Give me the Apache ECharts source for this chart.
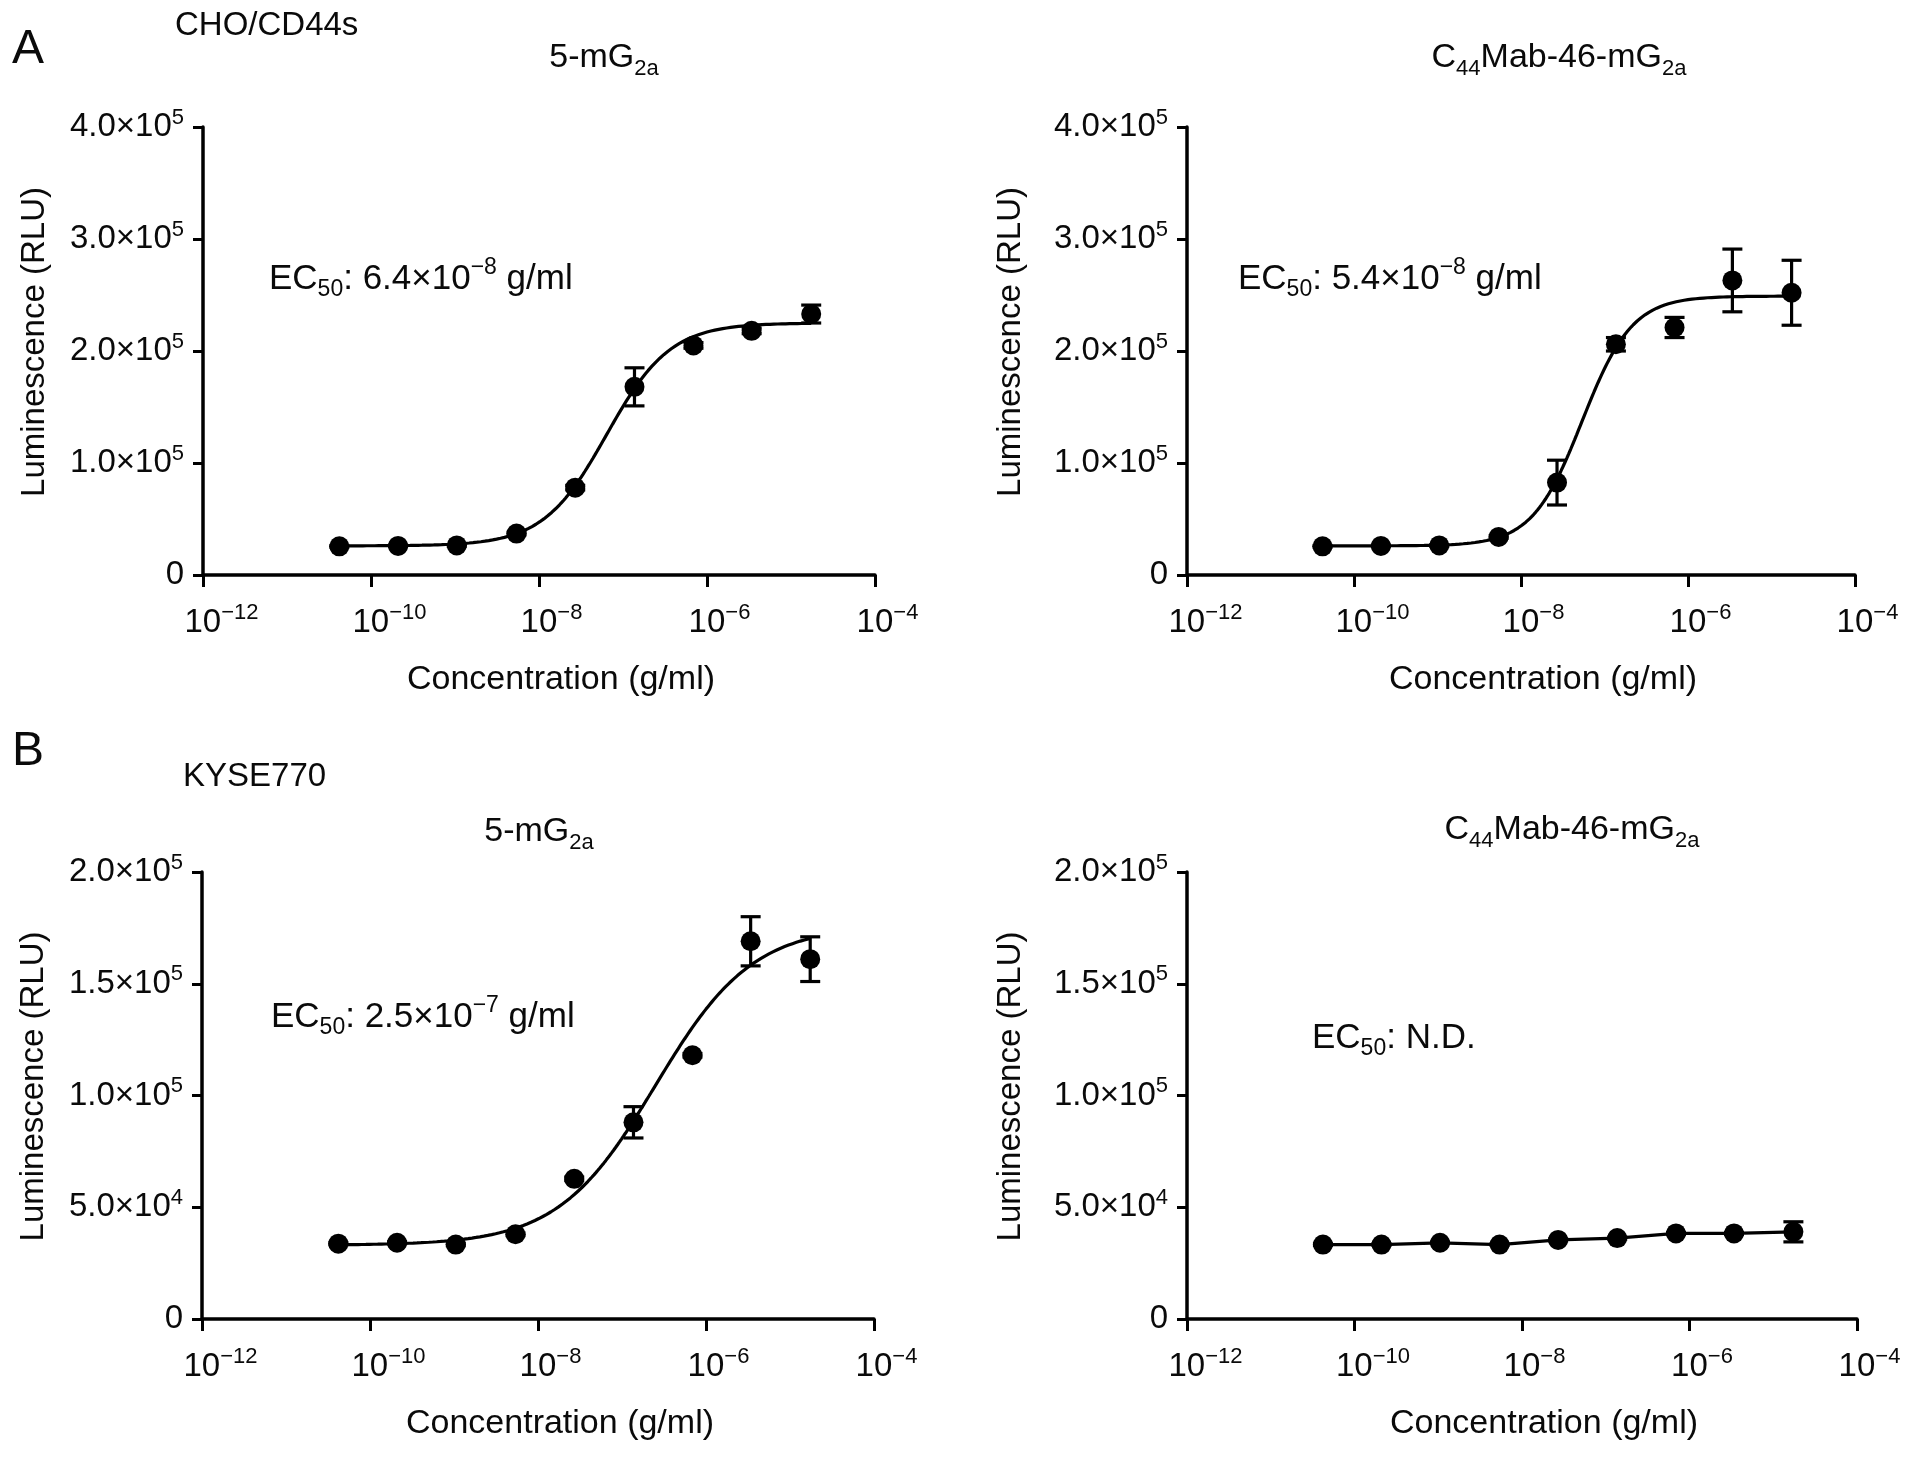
<!DOCTYPE html>
<html>
<head>
<meta charset="utf-8">
<script src="https://cdn.jsdelivr.net/npm/echarts@6/dist/echarts.min.js"></script>
<style>
html,body{margin:0;padding:0;background:#fff;}
#chart{width:1913px;height:1458px;}
</style>
</head>
<body>
<div id="chart"></div>
<script>
// ---------------- data ----------------
const concentrations = [4.2e-11, 2.1e-10, 1.05e-9, 5.4e-9, 2.7e-8, 1.37e-7, 6.9e-7, 3.4e-6, 1.74e-5];

// A: CHO/CD44s, 5-mG2a
const cho5Mean = [25600, 26000, 26400, 37000, 78000, 168000, 205000, 218000, 233000];
const cho5Err  = [800, 800, 800, 1200, 2000, 17000, 2500, 2500, 8000];
// A: CHO/CD44s, C44Mab-46-mG2a
const cho46Mean = [25600, 26000, 26400, 34000, 82500, 206000, 221000, 263000, 252000];
const cho46Err  = [800, 800, 800, 1200, 20000, 6000, 9000, 28000, 29000];
// B: KYSE770, 5-mG2a
const kyse5Mean = [33700, 34100, 33300, 37900, 62700, 88000, 118000, 169000, 161000];
const kyse5Err  = [500, 500, 500, 600, 800, 7000, 800, 11000, 10000];
// B: KYSE770, C44Mab-46-mG2a
const kyse46Mean = [33300, 33300, 34100, 33300, 35400, 36200, 38300, 38300, 39000];
const kyse46Err  = [400, 400, 400, 400, 500, 500, 500, 500, 4500];

// four-parameter logistic fits: [bottom, top, EC50, hill]
const cho5Fit  = [26000, 225000, 6.4e-8, 1.15];
const cho46Fit = [26000, 249000, 5.4e-8, 1.45];
const kyse5Fit = [33000, 176000, 2.5e-7, 0.75];

// tick values / labels
const xTickValues = [1e-12, 1e-10, 1e-8, 1e-6, 1e-4];
const xTickLabels = ['10^{−12}', '10^{−10}', '10^{−8}', '10^{−6}', '10^{−4}'];
const yTicksA = [0, 1e5, 2e5, 3e5, 4e5];
const yTickLabelsA = ['0', '1.0×10^{5}', '2.0×10^{5}', '3.0×10^{5}', '4.0×10^{5}'];
const yTicksB = [0, 5e4, 1e5, 1.5e5, 2e5];
const yTickLabelsB = ['0', '5.0×10^{4}', '1.0×10^{5}', '1.5×10^{5}', '2.0×10^{5}'];

// texts
const panelTitles = ['5-mG_{2a}', 'C_{44}Mab-46-mG_{2a}', '5-mG_{2a}', 'C_{44}Mab-46-mG_{2a}'];
const ec50Texts = ['EC_{50}: 6.4×10^{−8} g/ml', 'EC_{50}: 5.4×10^{−8} g/ml', 'EC_{50}: 2.5×10^{−7} g/ml', 'EC_{50}: N.D.'];
const sectionLetters = ['A', 'B'];
const cellLines = ['CHO/CD44s', 'KYSE770'];
const xAxisTitle = 'Concentration (g/ml)';
const yAxisTitle = 'Luminescence (RLU)';

// ---------------- helpers ----------------
const FONT = '"Liberation Sans", Arial, Helvetica, sans-serif';
const TXT = '#0a0a0a';

function toRich(str) {
  const re = /([_^])\{([^}]*)\}/g;
  let out = '', last = 0, m;
  while ((m = re.exec(str))) {
    if (m.index > last) out += '{b|' + str.slice(last, m.index) + '}';
    out += '{' + (m[1] === '_' ? 'sub' : 'sup') + '|' + m[2] + '}';
    last = re.lastIndex;
  }
  if (last < str.length) out += '{b|' + str.slice(last) + '}';
  return out;
}
function zrRich(F, f, pad) {
  return {
    b:   { font: F + 'px ' + FONT, lineHeight: F + 2 * pad, verticalAlign: 'middle', fill: TXT },
    sup: { font: f + 'px ' + FONT, verticalAlign: 'top', fill: TXT },
    sub: { font: f + 'px ' + FONT, verticalAlign: 'bottom', fill: TXT }
  };
}
function textEl(str, x, y, F, f, pad, align) {
  return {
    type: 'text', x: x, y: y, silent: true,
    style: { text: toRich(str), rich: zrRich(F, f, pad), font: F + 'px ' + FONT,
             fill: TXT, align: align, verticalAlign: 'middle' }
  };
}
function fitCurve(p, xs) {
  const lo = Math.log10(xs[0]), hi = Math.log10(xs[xs.length - 1]);
  const pts = [];
  const n = 240;
  for (let i = 0; i <= n; i++) {
    const x = Math.pow(10, lo + (hi - lo) * i / n);
    const y = p[0] + (p[1] - p[0]) / (1 + Math.pow(p[2] / x, p[3]));
    pts.push([x, y]);
  }
  return pts;
}

// ---------------- layout ----------------
const panels = [
  { grid: { left: 203, top: 127, width: 672, height: 448 }, yMax: 4e5, yInt: 1e5, yTicks: yTicksA, yLabels: yTickLabelsA,
    mean: cho5Mean, err: cho5Err, fit: cho5Fit, title: [604, 58], ec: [269, 279], yNameGap: 152 },
  { grid: { left: 1187, top: 127, width: 668, height: 448 }, yMax: 4e5, yInt: 1e5, yTicks: yTicksA, yLabels: yTickLabelsA,
    mean: cho46Mean, err: cho46Err, fit: cho46Fit, title: [1559, 58], ec: [1238, 279], yNameGap: 160 },
  { grid: { left: 202, top: 872, width: 672, height: 447 }, yMax: 2e5, yInt: 5e4, yTicks: yTicksB, yLabels: yTickLabelsB,
    mean: kyse5Mean, err: kyse5Err, fit: kyse5Fit, title: [539, 832], ec: [271, 1017], yNameGap: 152 },
  { grid: { left: 1187, top: 872, width: 670, height: 447 }, yMax: 2e5, yInt: 5e4, yTicks: yTicksB, yLabels: yTickLabelsB,
    mean: kyse46Mean, err: kyse46Err, fit: null, title: [1572, 830], ec: [1312, 1038], yNameGap: 160 }
];

function axisRichLabel(s) {
  const m = /^(.*?)\^\{(.*)\}$/.exec(s);
  if (!m) return '{b|' + s + '}';
  return '{' + (m[2].length >= 3 ? 'b3' : 'b2') + '|' + m[1] + '}{sup|' + m[2] + '}';
}
function axisRichLabelY(s) {
  const m = /^(.*?)\^\{(.*)\}$/.exec(s);
  if (!m) return '{b|' + s + '}';
  return '{b|' + m[1] + '}{sup|' + m[2] + '}';
}
const LF = 33, LS = 22;
const baseRich = { fontSize: LF, fontFamily: FONT, color: TXT, lineHeight: LF + 8, verticalAlign: 'middle' };
const supRich = { fontSize: LS, fontFamily: FONT, color: TXT, verticalAlign: 'top' };
const xRich = {
  b: baseRich,
  b3: Object.assign({}, baseRich, { padding: [0, 0, 0, 37] }),
  b2: Object.assign({}, baseRich, { padding: [0, 0, 0, 25] }),
  sup: supRich
};
const yRich = { b: baseRich, sup: supRich };

function nearestIndex(arr, v, log) {
  let best = 0, bd = Infinity;
  arr.forEach((a, i) => {
    const d = log ? Math.abs(Math.log10(a) - Math.log10(v)) : Math.abs(a - v);
    if (d < bd) { bd = d; best = i; }
  });
  return best;
}

const axisLineStyle = { color: '#000', width: 3.5 };

const option = {
  animation: false,
  backgroundColor: '#fff',
  grid: panels.map(p => Object.assign({ containLabel: false, outerBoundsMode: 'none' }, p.grid)),
  xAxis: panels.map((p, i) => ({
    type: 'log', logBase: 100, gridIndex: i, min: 1e-12, max: 1e-4, splitNumber: 4,
    axisLine: { show: true, onZero: false, lineStyle: axisLineStyle },
    axisTick: { show: true, inside: false, length: 12, lineStyle: { color: '#000', width: 3 } },
    minorTick: { show: false }, splitLine: { show: false },
    axisLabel: {
      show: true, margin: 27, hideOverlap: false,
      formatter: v => axisRichLabel(xTickLabels[nearestIndex(xTickValues, v, true)]),
      rich: xRich
    },
    name: xAxisTitle, nameLocation: 'middle', nameGap: 88,
    nameTextStyle: { fontSize: 34, fontFamily: FONT, color: TXT, padding: [0, 0, 0, 44] }
  })),
  yAxis: panels.map((p, i) => ({
    type: 'value', gridIndex: i, min: 0, max: p.yMax, interval: p.yInt,
    axisLine: { show: true, onZero: false, lineStyle: axisLineStyle },
    axisTick: { show: true, inside: false, length: 10, lineStyle: { color: '#000', width: 3 } },
    splitLine: { show: false },
    axisLabel: {
      show: true, margin: 19, hideOverlap: false,
      formatter: v => axisRichLabelY(p.yLabels[nearestIndex(p.yTicks, v, false)]),
      rich: yRich
    },
    name: yAxisTitle, nameLocation: 'middle', nameGap: p.yNameGap,
    nameTextStyle: { fontSize: 33, fontFamily: FONT, color: TXT, padding: [0, 0, 0, 18] }
  })),
  series: [],
  graphic: { elements: [] }
};

panels.forEach((p, i) => {
  option.series.push({
    type: 'line', xAxisIndex: i, yAxisIndex: i, showSymbol: false, symbol: 'none', smooth: false,
    data: p.fit ? fitCurve(p.fit, concentrations) : concentrations.map((c, j) => [c, p.mean[j]]),
    lineStyle: { color: '#000', width: 3.2, opacity: 1 }, z: 2, silent: true
  });
  option.series.push({
    type: 'custom', xAxisIndex: i, yAxisIndex: i, z: 3, silent: true,
    data: concentrations.map((c, j) => [c, p.mean[j] - p.err[j], p.mean[j] + p.err[j]]),
    encode: { x: 0, y: [1, 2] },
    renderItem: (params, api) => {
      const x = api.value(0);
      const lo = api.coord([x, api.value(1)]);
      const hi = api.coord([x, api.value(2)]);
      const w = 10;
      const st = { stroke: '#000', lineWidth: 3.2 };
      return { type: 'group', children: [
        { type: 'line', shape: { x1: lo[0], y1: lo[1], x2: hi[0], y2: hi[1] }, style: st },
        { type: 'line', shape: { x1: lo[0] - w, y1: lo[1], x2: lo[0] + w, y2: lo[1] }, style: st },
        { type: 'line', shape: { x1: hi[0] - w, y1: hi[1], x2: hi[0] + w, y2: hi[1] }, style: st }
      ] };
    }
  });
  option.series.push({
    type: 'scatter', xAxisIndex: i, yAxisIndex: i, symbol: 'circle', symbolSize: 20, z: 4, silent: true,
    itemStyle: { color: '#000', opacity: 1 },
    data: concentrations.map((c, j) => [c, p.mean[j]])
  });
  option.graphic.elements.push(textEl(panelTitles[i], p.title[0], p.title[1], 34, 22, 5, 'center'));
  option.graphic.elements.push(textEl(ec50Texts[i], p.ec[0], p.ec[1], 35, 23, 5, 'left'));
});

option.graphic.elements.push(textEl(sectionLetters[0], 12, 50, 48, 30, 0, 'left'));
option.graphic.elements.push(textEl(sectionLetters[1], 12, 752, 48, 30, 0, 'left'));
option.graphic.elements.push(textEl(cellLines[0], 175, 26, 33, 22, 0, 'left'));
option.graphic.elements.push(textEl(cellLines[1], 183, 777, 33, 22, 0, 'left'));

const chart = echarts.init(document.getElementById('chart'), null, { renderer: 'canvas' });
chart.setOption(option);
</script>
</body>
</html>
